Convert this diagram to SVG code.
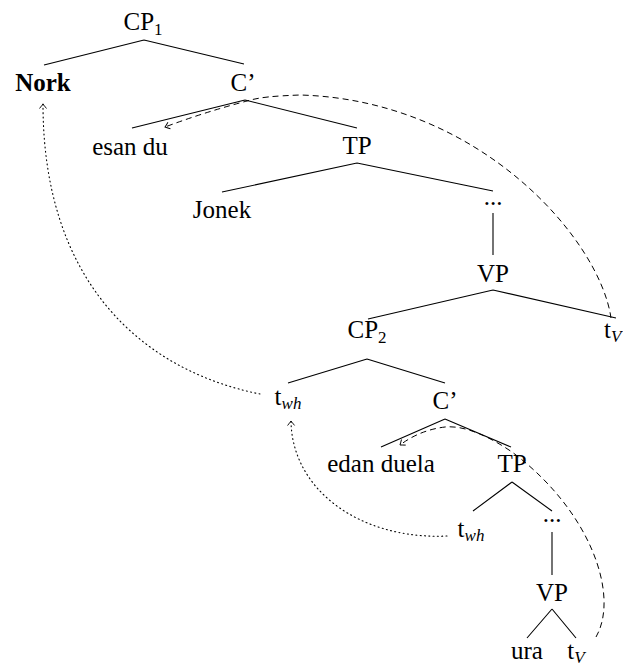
<svg xmlns="http://www.w3.org/2000/svg" width="623" height="666" viewBox="0 0 623 666">
<defs>
<style>
text{font-family:"Liberation Serif","Times New Roman",serif;font-size:25px;fill:#000;text-anchor:middle}
.b{font-weight:bold}
.sub{font-size:17px}
.it{font-style:italic}
.st{text-anchor:start}
.edge{stroke:#000;stroke-width:1.1;fill:none}
.dash{stroke:#000;stroke-width:1;fill:none;stroke-dasharray:6 4}
.dot{stroke:#000;stroke-width:1.1;fill:none;stroke-dasharray:1 3.3;stroke-linecap:round}
</style>
<marker id="ah" markerUnits="userSpaceOnUse" markerWidth="12" markerHeight="12" refX="0" refY="0" viewBox="-6 -6 12 12" orient="auto" overflow="visible">
<path d="M-4.5,-3.5 Q-1.2,-0.9 0,0 Q-1.2,0.9 -4.5,3.5" fill="none" stroke="#000" stroke-width="0.9"/>
</marker>
</defs>
<rect width="623" height="666" fill="#fff"/>
<g id="edges">
<path class="edge" d="M144,40 L44,65 M144,40 L244,64"/>
<path class="edge" d="M245,100 L132,128 M245,100 L357,128"/>
<path class="edge" d="M357,163 L222,192 M357,163 L493,191"/>
<path class="edge" d="M493,213 L493,255"/>
<path class="edge" d="M493,290 L368,319 M493,290 L616,318"/>
<path class="edge" d="M367,359 L288,383 M367,359 L445,383"/>
<path class="edge" d="M445,419 L381,447 M445,419 L511,447"/>
<path class="edge" d="M512,482 L473,511 M512,482 L552,511"/>
<path class="edge" d="M552,532 L552,575"/>
<path class="edge" d="M552,609 L527,638 M552,609 L576,638"/>
</g>
<g id="movements">
<path class="dash" marker-end="url(#ah)" d="M611,318 C600,240 480,100 300,95 C275,96 260,97 247,101 Q205,112 165,127"/>
<path class="dash" marker-end="url(#ah)" d="M596,637 C620,595 590,510 512,452 C490,437 465,425 445,427 Q420,430 400,445"/>
<path class="dot" marker-end="url(#ah)" d="M260,394 C140,370 43,280 43,104"/>
<path class="dot" marker-end="url(#ah)" d="M447,536 C360,540 292,490 291,421"/>
</g>
<g id="n-cp1"><text x="143" y="30">CP<tspan class="sub" dy="5">1</tspan></text></g>
<g id="n-nork"><text class="b" x="43" y="91">Nork</text></g>
<g id="n-c1"><text x="243" y="91">C’</text></g>
<g id="n-esandu"><text x="130" y="155">esan du</text></g>
<g id="n-tp1"><text x="357" y="154">TP</text></g>
<g id="n-jonek"><text x="222" y="218">Jonek</text></g>
<g id="n-dots1"><text x="493" y="205">...</text></g>
<g id="n-vp1"><text x="493" y="282">VP</text></g>
<g id="n-cp2"><text x="367" y="338">CP<tspan class="sub" dy="5">2</tspan></text></g>
<g id="n-tv1"><text class="st" x="604" y="338">t<tspan class="sub it" dy="4">V</tspan></text></g>
<g id="n-twh1"><text x="288" y="405">t<tspan class="sub it" dy="4">wh</tspan></text></g>
<g id="n-c2"><text x="445" y="409">C’</text></g>
<g id="n-edanduela"><text x="381" y="472">edan duela</text></g>
<g id="n-tp2"><text x="512" y="472">TP</text></g>
<g id="n-twh2"><text x="471" y="537">t<tspan class="sub it" dy="4">wh</tspan></text></g>
<g id="n-dots2"><text x="552" y="522">...</text></g>
<g id="n-vp2"><text x="552" y="601">VP</text></g>
<g id="n-ura"><text x="527" y="659">ura</text></g>
<g id="n-tv2"><text x="576" y="659">t<tspan class="sub it" dy="4">V</tspan></text></g>
</svg>
